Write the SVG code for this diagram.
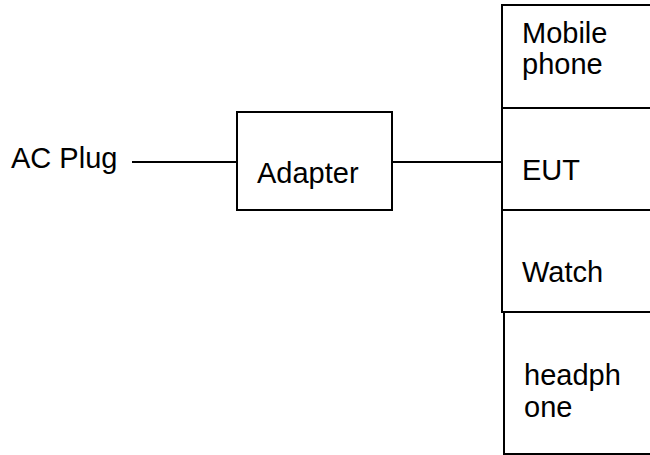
<svg xmlns="http://www.w3.org/2000/svg" width="650" height="455" viewBox="0 0 650 455">
<style>
.t{font-family:"Liberation Sans",Arial,sans-serif;font-size:29px;fill:#000}
.b{fill:#fff;stroke:#000;stroke-width:2}
.c{stroke:#000;stroke-width:2;fill:none}
</style>
<rect width="650" height="455" fill="#fff"/>
<g id="connectors">
<line class="c" x1="132" y1="162" x2="237" y2="162"/>
<line class="c" x1="392" y1="162" x2="503" y2="162"/>
</g>
<g id="ac-plug"><text class="t" x="11" y="168">AC Plug</text></g>
<g id="adapter"><rect class="b" x="237" y="112" width="155" height="98"/><text class="t" x="257" y="183">Adapter</text></g>
<g id="mobile"><rect class="b" x="502" y="5" width="160" height="103"/><text class="t" x="522" y="43">Mobile</text><text class="t" x="522" y="74">phone</text></g>
<g id="eut"><rect class="b" x="502" y="108" width="160" height="102"/><text class="t" x="522" y="180">EUT</text></g>
<g id="watch"><rect class="b" x="502" y="210" width="160" height="102"/><text class="t" x="522" y="282">Watch</text></g>
<g id="headphone"><rect class="b" x="504" y="312" width="160" height="142"/><text class="t" x="524" y="385">headph</text><text class="t" x="524" y="417">one</text></g>
</svg>
